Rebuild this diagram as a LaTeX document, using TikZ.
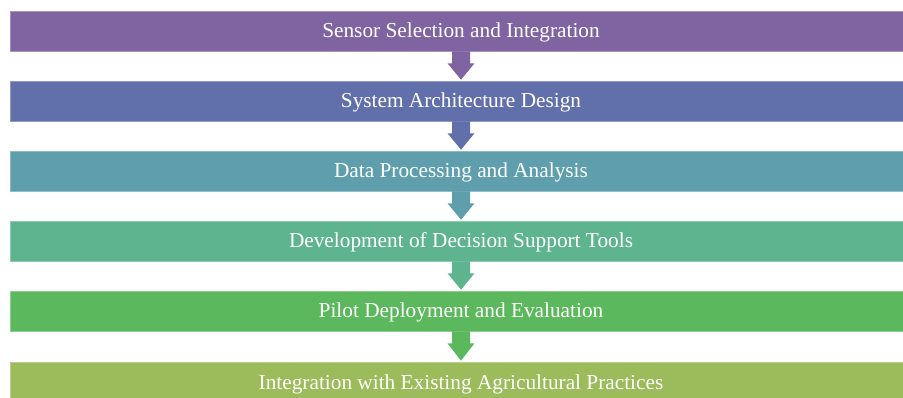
\documentclass[tikz,border=0pt]{standalone}
\usepackage{fontspec}
\setmainfont{Liberation Serif}
\definecolor{cA}{HTML}{8064A2}
\definecolor{cB}{HTML}{6170AA}
\definecolor{cC}{HTML}{5F9EAC}
\definecolor{cD}{HTML}{5EB48F}
\definecolor{cE}{HTML}{5CB85C}
\definecolor{cF}{HTML}{9CBB5A}
\newcommand\blockarrow[3]{%
  \fill[#3] ([xshift=-9pt]#1.south) -- ([xshift=-9pt,yshift=-12pt]#1.south)
    -- ([xshift=-13.5pt,yshift=-12pt]#1.south) -- ([yshift=1pt]#2.north)
    -- ([xshift=13.5pt,yshift=-12pt]#1.south) -- ([xshift=9pt,yshift=-12pt]#1.south)
    -- ([xshift=9pt]#1.south) -- cycle;}
\begin{document}
\begin{tikzpicture}[x=1pt,y=1pt,
  stepbox/.style={minimum width=902pt,minimum height=40pt,inner sep=0pt,
    text height=17pt,text depth=3pt,
    text=white,font=\fontsize{21.3}{24}\selectfont,anchor=center}]
\useasboundingbox (0,0) rectangle (903,-398);
\clip (0,0) rectangle (903,-398);
\node[stepbox,fill=cA,draw=cA!70!white,line width=0.6pt] (b1) at (461,-31) {Sensor Selection and Integration};
\node[stepbox,fill=cB,draw=cB!70!white,line width=0.6pt] (b2) at (461,-101) {System Architecture Design};
\node[stepbox,fill=cC,draw=cC!70!white,line width=0.6pt] (b3) at (461,-171) {Data Processing and Analysis};
\node[stepbox,fill=cD,draw=cD!70!white,line width=0.6pt] (b4) at (461,-241) {Development of Decision Support Tools};
\node[stepbox,fill=cE,draw=cE!70!white,line width=0.6pt] (b5) at (461,-311) {Pilot Deployment and Evaluation};
\node[stepbox,fill=cF,draw=cF!70!white,line width=0.6pt] (b6) at (461,-382) {Integration with Existing Agricultural Practices};
\blockarrow{b1}{b2}{cA}
\blockarrow{b2}{b3}{cB}
\blockarrow{b3}{b4}{cC}
\blockarrow{b4}{b5}{cD}
\blockarrow{b5}{b6}{cE}
\end{tikzpicture}
\end{document}
